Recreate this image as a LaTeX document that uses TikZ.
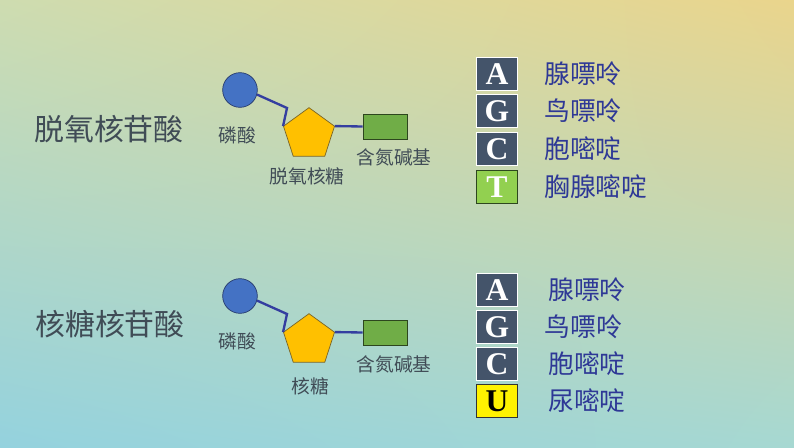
\documentclass[tikz,border=0pt]{standalone}
\usepackage{fontspec}
\setmainfont{Liberation Serif}
\newfontfamily\cjk{Noto Sans CJK SC}
\usepackage{tikz}
\usetikzlibrary{shapes.geometric,positioning,shadings}
\definecolor{bgtl}{RGB}{206,220,176}
\definecolor{bgtr}{RGB}{234,213,140}
\definecolor{bgbl}{RGB}{148,210,222}
\definecolor{bgbr}{RGB}{166,216,210}
\definecolor{phblue}{RGB}{68,114,196}
\definecolor{phedge}{RGB}{40,60,110}
\definecolor{sugaryel}{RGB}{255,192,0}
\definecolor{sugaredge}{RGB}{120,100,40}
\definecolor{basegreen}{RGB}{112,173,71}
\definecolor{baseedge}{RGB}{45,70,30}
\definecolor{boxslate}{RGB}{68,84,106}
\definecolor{tgreen}{RGB}{146,208,80}
\definecolor{bondblue}{RGB}{52,62,160}
\definecolor{namegray}{RGB}{64,76,86}
\definecolor{labblue}{RGB}{46,56,150}
\tikzstyle{phosphate} = [circle, minimum size=1.04cm, inner sep=0, draw=phedge, line width=0.6pt, fill=phblue]
\tikzstyle{sugar} = [regular polygon, regular polygon sides=5, minimum size=1.61cm, inner sep=0, draw=sugaredge, line width=0.6pt, fill=sugaryel]
\tikzstyle{nbase} = [rectangle, minimum width=1.32cm, minimum height=0.75cm, inner sep=0, draw=baseedge, line width=0.6pt, fill=basegreen]
\tikzstyle{letter} = [rectangle, minimum width=1.23cm, minimum height=0.99cm, inner sep=0, draw=white, line width=1pt, fill=boxslate, text=white, font=\bfseries\fontsize{27}{27}\selectfont]
\tikzstyle{partname} = [inner sep=0, text=namegray, font=\cjk\fontsize{16}{16}\selectfont]
\tikzstyle{basename} = [inner sep=0, text=labblue, font=\cjk\fontsize{22}{22}\selectfont]
\tikzstyle{title} = [inner sep=0, text=namegray, font=\cjk\fontsize{25.5}{25.5}\selectfont]
\tikzstyle{bond} = [draw=bondblue, line width=2pt]

\begin{document}
\begin{tikzpicture}[x=0.03cm, y=-0.03cm]
    \shade[upper left=bgtl, upper right=bgtr, lower left=bgbl, lower right=bgbr] (0,0) rectangle (794,447);

    % deoxyribonucleotide
    \node (dna_title) [title] at (109,129) {脱氧核苷酸};
    \node (ph1) [phosphate] at (240,90) {};
    \node (sugar1) [sugar] at (309,134.5) {};
    \node (base1) [nbase] at (385,126.5) {};
    \coordinate (kink1) at (287,108);
    \node (ph1_lab) [partname] at (237,135) {磷酸};
    \node (sugar1_lab) [partname] at (307,176) {脱氧核糖};
    \node (base1_lab) [partname] at (394,157) {含氮碱基};
    \draw[bond] (ph1.-15) -- (kink1) -- (sugar1.corner 2);
    \draw[bond] (sugar1.corner 5) -- (base1.west);

    \node (dA) [letter] at (497,74) {A};
    \node (dG) [letter] at (497,111) {G};
    \node (dC) [letter] at (497,149) {C};
    \node (dT) [letter, fill=tgreen, draw=baseedge] at (497,187) {T};
    \node (dA_lab) [basename, right=0.78cm of dA] {腺嘌呤};
    \node (dG_lab) [basename, right=0.78cm of dG] {鸟嘌呤};
    \node (dC_lab) [basename, right=0.78cm of dC] {胞嘧啶};
    \node (dT_lab) [basename, right=0.78cm of dT] {胸腺嘧啶};

    % ribonucleotide
    \node (rna_title) [title] at (110,324) {核糖核苷酸};
    \node (ph2) [phosphate] at (240,296) {};
    \node (sugar2) [sugar] at (309,340.5) {};
    \node (base2) [nbase] at (385,332.5) {};
    \coordinate (kink2) at (287,314);
    \node (ph2_lab) [partname] at (237,341) {磷酸};
    \node (sugar2_lab) [partname] at (310,386) {核糖};
    \node (base2_lab) [partname] at (394,364) {含氮碱基};
    \draw[bond] (ph2.-15) -- (kink2) -- (sugar2.corner 2);
    \draw[bond] (sugar2.corner 5) -- (base2.west);

    \node (rA) [letter] at (497,290) {A};
    \node (rG) [letter] at (497,327) {G};
    \node (rC) [letter] at (497,364) {C};
    \node (rU) [letter, fill=yellow, draw=black!80, text=black] at (497,401) {U};
    \node (rA_lab) [basename, right=0.9cm of rA] {腺嘌呤};
    \node (rG_lab) [basename, right=0.8cm of rG] {鸟嘌呤};
    \node (rC_lab) [basename, right=0.9cm of rC] {胞嘧啶};
    \node (rU_lab) [basename, right=0.9cm of rU] {尿嘧啶};
\end{tikzpicture}
\end{document}
